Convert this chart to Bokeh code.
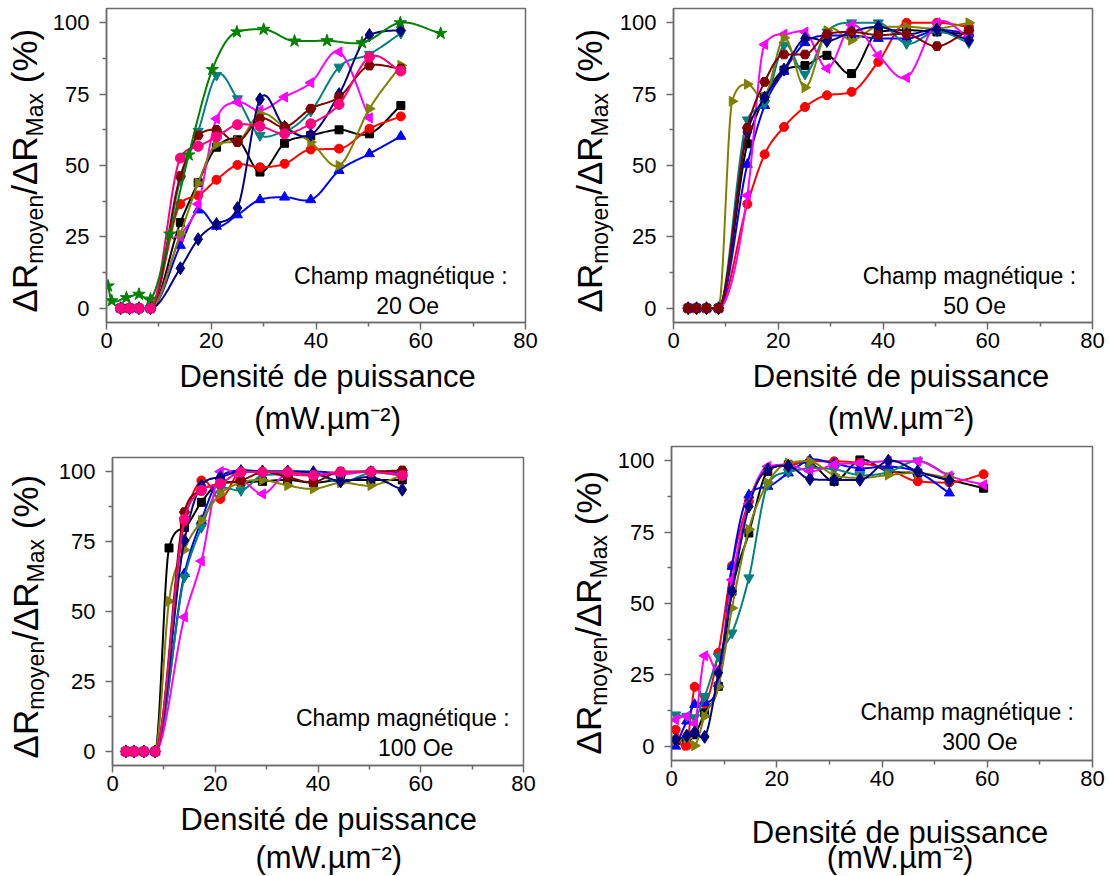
import numpy as np
from bokeh.plotting import figure
from bokeh.models import Label, FixedTicker, Range1d
from bokeh.layouts import column, row
from bokeh.core.properties import value
from bokeh.embed import file_html
from bokeh.resources import INLINE

# ---------------- data ----------------
X_TICKS = [0, 20, 40, 60, 80]
X_MINOR = [10, 30, 50, 70]
Y_TICKS = [0, 25, 50, 75, 100]
Y_MINOR = [12.5, 37.5, 62.5, 87.5]
FIELDS = ["20 Oe", "50 Oe", "100 Oe", "300 Oe"]

# Panel 1 : 20 Oe
p1_x = [2.7, 4.4, 6.2, 8.4, 14.1, 17.5, 21.0, 25.0, 29.3, 34.0, 39.0, 44.4, 50.2, 56.2]
p1_black = [0, 0, 0, 0, 30, 44, 56.4, 59, 47.7, 57.8, 60.5, 62.5, 61.1, 71]
p1_red = [0, 0, 0, 0, 36.5, 39.5, 45, 50.2, 49.4, 50.6, 55.6, 55.9, 62.9, 67.2]
p1_blue = [0, 0, 0, 0, 22, 34.4, 28.7, 32.7, 38, 38.9, 38, 48.2, 54.1, 60.2]
p1_teal = [0, 0, 0, 0, 45, 62, 81.6, 73.4, 60.5, 62, 69, 84.5, 89, 96.3]
p1_magenta = [0, 0, 0, 0, 25, 36.5, 66.4, 72.2, 69.3, 74, 79, 89.8, 66.7]
p1_olive = [0, 0, 0, 0, 26, 43.8, 57.4, 58.5, 68.1, 63.5, 58.2, 50, 69.9, 85.1]
p1_navy = [0, 0, 0, 0, 14, 24.2, 29.5, 35.1, 73.2, 63.5, 60.8, 75, 95.7, 97.4]
p1_maroon = [0, 0, 0, 0, 46.3, 60.5, 62.5, 58.2, 66.4, 63.5, 69.9, 74, 85, 84]
p1_pink = [0, 0, 0, 0, 52.6, 56.7, 60, 64.3, 63.7, 61.1, 64.6, 71.4, 88, 83.1]
p1_green_x = [0.3, 1.0, 3.8, 6.2, 8.4, 12.1, 15.7, 20.2, 24.9, 30.0, 35.9, 42.1, 48.8, 56.1, 63.8]
p1_green = [7.8, 2.6, 3.7, 4.9, 3.2, 26, 53.7, 83.6, 96.8, 97.7, 93.6, 93.7, 93, 100, 96.3]

# Panel 2 : 50 Oe
p2_x = [2.8, 4.4, 6.3, 8.6, 14.1, 17.4, 21.1, 25.1, 29.3, 34.0, 39.1, 44.5, 50.3, 56.4]
p2_olive_x = [2.8, 4.4, 6.3, 8.6, 11.2, 14.1, 17.4, 21.1, 25.1, 29.3, 34.0, 39.1, 44.5, 50.3, 56.4]
p2_black = [0, 0, 0, 0, 57.6, 74, 83.4, 85, 88.6, 82.2, 96.8, 97.4, 96.8, 96]
p2_red = [0, 0, 0, 0, 36.5, 53.9, 63.5, 70.5, 74.6, 75.8, 86.3, 100, 100, 98.6]
p2_blue = [0, 0, 0, 0, 50.4, 71, 83, 93, 95.5, 95.5, 94.5, 94.5, 97.4, 96.3]
p2_teal = [0, 0, 0, 0, 66, 71.7, 92.2, 82, 96.8, 100, 100, 92.7, 97, 93]
p2_magenta = [0, 0, 0, 0, 39.5, 92.4, 96, 96.8, 84, 99.2, 88.6, 80.8, 100, 95]
p2_olive = [0, 0, 0, 0, 72.5, 78.5, 74, 94.7, 77.3, 97.2, 93.9, 98.6, 98.6, 98, 100]
p2_navy = [0, 0, 0, 0, 61.7, 73.8, 83.6, 94.5, 93.6, 96.8, 98.6, 96, 97.7, 93.9]
p2_maroon = [0, 0, 0, 0, 63.2, 79.3, 88.9, 88.9, 96, 96.8, 95.7, 96, 91.8, 97.4]

# Panel 3 : 100 Oe
p3_x = [2.6, 4.2, 6.1, 8.3, 14.0, 17.3, 21.0, 25.0, 29.2, 34.1, 39.1, 44.4, 50.3, 56.4]
p3_x11 = [2.6, 4.2, 6.1, 8.3, 11.0, 14.0, 17.3, 21.0, 25.0, 29.2, 34.1, 39.1, 44.4, 50.3, 56.4]
p3_black = [0, 0, 0, 0, 72.7, 80, 89, 96, 96.2, 96.5, 97, 96, 97, 97, 97]
p3_red = [0, 0, 0, 0, 82, 96.8, 90.2, 99.8, 99.8, 99, 98.6, 99.5, 100, 99.5]
p3_blue = [0, 0, 0, 0, 63.5, 82.5, 98, 100.4, 100, 100, 100, 99.5, 100, 99.5]
p3_teal = [0, 0, 0, 0, 62.3, 80, 94, 93.2, 98.6, 99, 99, 96.2, 99.5, 98.6]
p3_magenta = [0, 0, 0, 0, 48, 68, 100, 97, 92, 99, 99, 99, 100, 99]
p3_olive = [0, 0, 0, 0, 53.7, 72, 82.5, 92, 96, 97, 95, 93.8, 96, 95, 98.6]
p3_navy = [0, 0, 0, 0, 75.4, 95, 98, 100, 100, 100, 99.5, 96.5, 98, 93.5]
p3_maroon = [0, 0, 0, 0, 85.5, 93.2, 95.6, 96.8, 99.8, 98, 96.2, 100, 100, 100.4]
p3_pink = [0, 0, 0, 0, 83, 93.2, 95.6, 99.8, 99.8, 99.8, 98.6, 99.8, 99.8, 98.6]

# Panel 4 : 300 Oe
p4_x = [0.8, 2.9, 4.4, 6.3, 8.9, 11.5, 14.7, 18.3, 22.2, 26.3, 30.9, 35.8, 41.2, 46.8, 52.8, 59.3]
p4_black = [2, 2, 4, 11.7, 21, 54.3, 74.7, 96.3, 98.6, 99.2, 92.8, 100.3, 96.3, 95.7, 93.3, 90.4]
p4_red = [5.8, 0.2, 20.8, 15, 32.7, 63.2, 85.8, 97.4, 98.6, 99.8, 99.8, 99.2, 97, 92.8, 92.4, 95.3]
p4_blue = [0, 8.8, 14.6, 15.2, 22, 63, 88, 91, 95.7, 100.3, 99, 97.4, 98, 96, 88.7]
p4_teal = [11, 10.5, 10, 17.5, 31.5, 39.7, 59, 91.6, 96, 97.4, 97, 95, 96, 100, 94.7]
p4_magenta = [9.3, 10.5, 8, 31.7, 27, 58.3, 85, 98, 98.6, 96.3, 98.6, 99.2, 99.8, 99.8, 94.7, 91.6]
p4_olive = [2, 2.9, 0.2, 10.5, 20.8, 48.4, 76, 92.2, 99.2, 99.8, 95, 94, 95, 95.7, 94]
p4_navy = [2.3, 3.7, 4.9, 3.3, 25.7, 54.3, 84, 97, 98.2, 93.6, 93.3, 93.3, 100, 96.3, 93]

# ---------------- styles ----------------
STYLE = {
    "black": ("#000000", "square", 0.0, 8),
    "red": ("#FF0000", "circle", 0.0, 9),
    "blue": ("#0000FF", "triangle", 0.0, 10),
    "teal": ("#008080", "inverted_triangle", 0.0, 10),
    "magenta": ("#FF00FF", "triangle", np.pi / 2, 10),
    "olive": ("#808000", "triangle", -np.pi / 2, 10),
    "navy": ("#000080", "diamond", 0.0, 13),
    "maroon": ("#800000", "hex", 0.0, 10),
    "pink": ("#FF0080", "circle", 0.0, 10),
    "green": ("#008000", "star", 0.0, 13),
}
FONT = "Liberation Sans"
AXC = "#6b6b6b"
MID = 0.35  # distance from the text middle to its baseline, in em

PANELS = [
    [("black", p1_x, p1_black), ("red", p1_x, p1_red), ("blue", p1_x, p1_blue),
     ("teal", p1_x, p1_teal), ("magenta", p1_x[:len(p1_magenta)], p1_magenta),
     ("olive", p1_x, p1_olive), ("navy", p1_x, p1_navy), ("maroon", p1_x, p1_maroon),
     ("pink", p1_x, p1_pink), ("green", p1_green_x, p1_green)],
    [("black", p2_x, p2_black), ("red", p2_x, p2_red), ("blue", p2_x, p2_blue),
     ("teal", p2_x, p2_teal), ("magenta", p2_x, p2_magenta), ("olive", p2_olive_x, p2_olive),
     ("navy", p2_x, p2_navy), ("maroon", p2_x, p2_maroon)],
    [("black", p3_x11, p3_black), ("red", p3_x, p3_red), ("blue", p3_x, p3_blue),
     ("teal", p3_x, p3_teal), ("magenta", p3_x, p3_magenta), ("olive", p3_x11, p3_olive),
     ("navy", p3_x, p3_navy), ("maroon", p3_x, p3_maroon), ("pink", p3_x, p3_pink)],
    [("black", p4_x, p4_black), ("red", p4_x, p4_red), ("blue", p4_x[:len(p4_blue)], p4_blue),
     ("teal", p4_x[:len(p4_teal)], p4_teal), ("magenta", p4_x, p4_magenta),
     ("olive", p4_x[:len(p4_olive)], p4_olive), ("navy", p4_x[:len(p4_navy)], p4_navy)],
]


def smooth(x, y, n=260):
    x = np.asarray(x, float)
    y = np.asarray(y, float)
    h = np.diff(x)
    d = np.diff(y) / h
    m = np.zeros_like(y)
    m[0] = d[0]
    m[-1] = d[-1]
    for i in range(1, len(x) - 1):
        if d[i - 1] == 0 or d[i] == 0:
            m[i] = 0.0
        else:
            m[i] = (h[i] * d[i - 1] + h[i - 1] * d[i]) / (h[i - 1] + h[i])
    for k in range(len(h)):
        if d[k] == 0:
            continue
        a = m[k] / d[k]
        b = m[k + 1] / d[k]
        s = a * a + b * b
        if s > 9:
            t = 3 / np.sqrt(s)
            m[k] = t * a * d[k]
            m[k + 1] = t * b * d[k]
    xs = np.linspace(x[0], x[-1], n)
    idx = np.clip(np.searchsorted(x, xs, side="right") - 1, 0, len(h) - 1)
    t = (xs - x[idx]) / h[idx]
    h00 = 2 * t**3 - 3 * t**2 + 1
    h10 = t**3 - 2 * t**2 + t
    h01 = -2 * t**3 + 3 * t**2
    h11 = t**3 - t**2
    ys = h00 * y[idx] + h10 * h[idx] * m[idx] + h01 * y[idx + 1] + h11 * h[idx] * m[idx + 1]
    return xs, ys


WID = {'Δ': 668, 'R': 722, 'm': 833, 'o': 556, 'y': 500, 'e': 556, 'n': 556, '/': 278,
       'M': 833, 'a': 556, 'x': 500, ' ': 278, '(': 333, '%': 889, ')': 333}


def tw(s, size):
    return sum(WID[c] for c in s) * size / 1000.0


def blank(width, height):
    p = figure(width=width, height=height, x_range=Range1d(0, width), y_range=Range1d(0, height),
               title=None, output_backend="svg", toolbar_location=None,
               x_axis_location=None, y_axis_location=None,
               min_border_left=0, min_border_right=0, min_border_top=0, min_border_bottom=0)
    p.grid.visible = False
    p.outline_line_color = None
    p.background_fill_color = "white"
    p.border_fill_color = "white"
    return p


def txt_h(p, x, yb, s, size, align="center"):
    # horizontal text whose baseline lies yb pixels below the top of the small figure
    yc = yb - MID * size
    p.text(x=[x], y=[p.height - yc], text=[s], text_font=value(FONT),
           text_font_size=value(f"{size}px"), text_align=value(align),
           text_baseline=value("middle"), text_color=value("black"))


def txt_v(p, xb, y, s, size):
    # text rotated 90 degrees, baseline at xb pixels from the left, starting y pixels from the top
    xc = xb - MID * size
    p.text(x=[xc], y=[p.height - y], text=[s], angle=np.pi / 2, text_font=value(FONT),
           text_font_size=value(f"{size}px"), text_align=value("left"),
           text_baseline=value("middle"), text_color=value("black"))


def ylabel_fig(width, height, xm, y0, F=35, f=23, dx=7):
    p = blank(width, height)
    pieces = [("ΔR", F, 0, 0), ("moyen", f, dx, 0), ("/ΔR", F, 0, 0), ("Max", f, dx, 0),
              ("(%)", F, 0, tw(" ", F))]
    y = y0
    for s, size, off, gap in pieces:
        y -= gap
        txt_v(p, xm + off, y, s, size)
        y -= tw(s, size)
    return p


def xlabel_fig(width, height, cx, b1, b2, F=31):
    p = blank(width, height)
    txt_h(p, cx, b1, "Densité de puissance", F)
    txt_h(p, cx, b2, "(mW.µm⁻²)", F)
    return p


def make_panel(k, width, height, bl, br, bt, bb, note):
    p = figure(width=width, height=height, x_range=Range1d(0, 80), y_range=Range1d(-5, 105),
               title=None, output_backend="svg", toolbar_location=None,
               min_border_left=bl, min_border_right=br, min_border_top=bt, min_border_bottom=bb)
    p.background_fill_color = "white"
    p.border_fill_color = "white"
    p.grid.visible = False
    p.outline_line_color = AXC
    p.outline_line_width = 1.5
    p.xaxis.ticker = FixedTicker(ticks=X_TICKS, minor_ticks=X_MINOR)
    p.yaxis.ticker = FixedTicker(ticks=Y_TICKS, minor_ticks=Y_MINOR)
    for ax in (p.xaxis[0], p.yaxis[0]):
        ax.axis_line_color = AXC
        ax.axis_line_width = 1.5
        ax.major_tick_line_color = AXC
        ax.minor_tick_line_color = AXC
        ax.major_tick_line_width = 1.5
        ax.minor_tick_line_width = 1.5
        ax.major_tick_in = 0
        ax.major_tick_out = 7
        ax.minor_tick_in = 0
        ax.minor_tick_out = 4
        ax.major_label_text_font = FONT
        ax.major_label_text_font_size = "22px"
        ax.major_label_text_color = "black"
    p.xaxis.major_label_standoff = 3
    p.yaxis.major_label_standoff = 10

    for name, xs, ys in PANELS[k]:
        c, mk, ang, sz = STYLE[name]
        sx, sy = smooth(xs, ys)
        p.line(sx, sy, line_color=c, line_width=2)
        p.scatter(xs, ys, marker=mk, angle=ang, size=sz, fill_color=c, line_color=c)

    (nx1, ny1), (nx2, ny2) = note
    p.add_layout(Label(x=nx1, y=ny1, text="Champ magnétique :", text_font=FONT,
                       text_font_size="23px", text_align="center", text_baseline="middle",
                       text_color="black"))
    p.add_layout(Label(x=nx2, y=ny2, text=FIELDS[k], text_font=FONT,
                       text_font_size="23px", text_align="center", text_baseline="middle",
                       text_color="black"))
    return p


# ---- top-left block (page x 0..553, y 0..444)
m1 = make_panel(0, 504, 358, 56, 28, 8, 36, ((56.2, 11.2), (57.5, 0.7)))
y1 = ylabel_fig(49, 444, 36, 312)
x1 = xlabel_fig(504, 86, 266, 29, 71)
b1 = row(y1, column(m1, x1))

# ---- top-right block (page x 553..1106)
m2 = make_panel(1, 490, 358, 56, 14, 8, 36, ((56.5, 11.2), (57.5, 0.7)))
y2 = ylabel_fig(63, 444, 48, 312)
x2 = xlabel_fig(490, 86, 266, 29, 71)
b2 = row(y2, column(m2, x2))

# ---- bottom-left block (page y 444..876)
m3 = make_panel(2, 498, 357, 56, 30, 13, 36, ((56.5, 11.8), (59.0, 1.4)))
y3 = ylabel_fig(55, 432, 37, 314)
x3 = xlabel_fig(498, 75, 262, 29, 67)
b3 = row(y3, column(m3, x3))

# ---- bottom-right block
m4 = make_panel(3, 492, 352, 56, 14, 2, 36, ((56.2, 11.9), (58.6, 1.4)))
y4 = ylabel_fig(61, 432, 47, 310)
x4 = xlabel_fig(492, 80, 267, 47, 72)
b4 = row(y4, column(m4, x4))

layout = column(row(b1, b2), row(b3, b4))
open("out.html", "w").write(file_html(layout, INLINE))
